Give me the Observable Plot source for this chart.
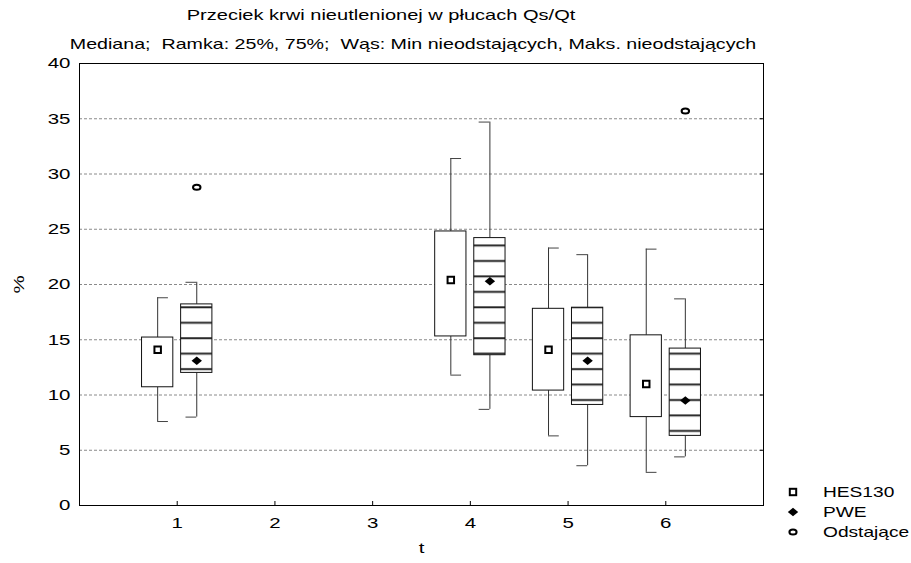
<!DOCTYPE html>
<html>
<head>
<meta charset="utf-8">
<script src="https://cdn.jsdelivr.net/npm/d3@7"></script>
<script src="https://cdn.jsdelivr.net/npm/@observablehq/plot@0.6"></script>
<style>
  body { margin: 0; background: #fff; font-family: "Liberation Sans", Arial, sans-serif; }
  #wrap { position: relative; width: 911px; height: 563px; overflow: hidden; background: #fff; }
  #wrap > svg { position: absolute; left: 0; top: 0; }
  .ctext { position: absolute; white-space: pre; line-height: 1; color: #000;
           transform: translate(-50%, -50%) scaleX(1.354); }
  .leg { position: absolute; white-space: pre; font-size: 14.5px; line-height: 1; color: #000;
         transform-origin: 0 50%; transform: translateY(-50%) scaleX(1.32); }
  .legsym { position: absolute; }
</style>
</head>
<body>
<div id="wrap"></div>
<script>
// ---- data ----
const tValues  = [1, 4, 5, 6];
const hesMin   = [7.6, 11.8, 6.3, 3.0];
const hesQ1    = [10.7, 15.3, 10.4, 8.0];
const hesMed   = [14.1, 20.4, 14.1, 11.0];
const hesQ3    = [15.2, 24.8, 17.8, 15.4];
const hesMax   = [18.8, 31.4, 23.3, 23.2];
const pweMin   = [8.0, 8.7, 3.6, 4.4];
const pweQ1    = [12.0, 13.6, 9.1, 6.3];
const pweMed   = [13.1, 20.3, 13.1, 9.5];
const pweQ3    = [18.2, 24.2, 17.9, 14.2];
const pweMax   = [20.2, 34.7, 22.7, 18.7];
const outlierT      = [1, 6];
const outlierSeries = ["PWE", "PWE"];
const outlierValues = [28.8, 35.7];
const xTicks = [1, 2, 3, 4, 5, 6];
const yTicks = [0, 5, 10, 15, 20, 25, 30, 35, 40];
const seriesNames = ["HES130", "PWE", "Odstające"];
const titleText = "Przeciek krwi nieutlenionej w płucach Qs/Qt";
const subtitleText = "Mediana;  Ramka: 25%, 75%;  Wąs: Min nieodstających, Maks. nieodstających";
const xLabel = "t";
const yLabel = "%";

// ---- layout / style ----
const W = 911, H = 563;
const offset = {HES130: -0.2, PWE: 0.2};
const capDir = {HES130: 1, PWE: -1};
const halfW = 0.16, capLen = 0.11;
const STRETCH = 1.32;

function build(series, mins, q1s, meds, q3s, maxs) {
  return tValues.map((t, i) => ({series, t, xc: t + offset[series],
    min: mins[i], q1: q1s[i], med: meds[i], q3: q3s[i], max: maxs[i]}));
}
const hes = build("HES130", hesMin, hesQ1, hesMed, hesQ3, hesMax);
const pwe = build("PWE", pweMin, pweQ1, pweMed, pweQ3, pweMax);
const rows = hes.concat(pwe);
const outliers = outlierT.map((t, i) => ({t, xc: t + offset[outlierSeries[i]], v: outlierValues[i]}));

// custom symbols
const squareSym = {draw(ctx, size) { const h = Math.sqrt(size / Math.PI) * 0.9; ctx.rect(-h, -h, 2*h, 2*h); }};
const diamondSym = {draw(ctx, size) { const r = Math.sqrt(size / Math.PI); const a = r * 1.3, b = r * 1.05;
  ctx.moveTo(0, -b); ctx.lineTo(a, 0); ctx.lineTo(0, b); ctx.lineTo(-a, 0); ctx.closePath(); }};
const ellipseSym = {draw(ctx, size) { const r = Math.sqrt(size / Math.PI); const rx = r * 1.25, ry = r * 0.85, k = 0.5523;
  ctx.moveTo(rx, 0);
  ctx.bezierCurveTo(rx, k*ry, k*rx, ry, 0, ry);
  ctx.bezierCurveTo(-k*rx, ry, -rx, k*ry, -rx, 0);
  ctx.bezierCurveTo(-rx, -k*ry, -k*rx, -ry, 0, -ry);
  ctx.bezierCurveTo(k*rx, -ry, rx, -k*ry, rx, 0);
  ctx.closePath(); }};

const fmt = d => String(d);

const chart = Plot.plot({
  width: W, height: H,
  marginTop: 63, marginLeft: 79, marginRight: 148, marginBottom: 58,
  style: {fontFamily: '"Liberation Sans", Arial, sans-serif', fontSize: "15.5px", color: "#000", background: "#fff"},
  x: {domain: [0, 7]},
  y: {domain: [0, 40]},
  marks: [
    Plot.ruleY(yTicks.filter(v => v > 0 && v < 40), {stroke: "#8a8a8a", strokeDasharray: "3,2"}),
    Plot.ruleX(rows, {x: "xc", y1: "q3", y2: "max", stroke: "#333"}),
    Plot.ruleX(rows, {x: "xc", y1: "min", y2: "q1", stroke: "#333"}),
    Plot.ruleY(rows, {y: "max", x1: "xc", x2: d => d.xc + capDir[d.series] * capLen, stroke: "#444"}),
    Plot.ruleY(rows, {y: "min", x1: "xc", x2: d => d.xc + capDir[d.series] * capLen, stroke: "#444"}),
    Plot.rect(hes, {x1: d => d.xc - halfW, x2: d => d.xc + halfW, y1: "q1", y2: "q3", fill: "white", stroke: "#111"}),
    Plot.rect(pwe, {x1: d => d.xc - halfW, x2: d => d.xc + halfW, y1: "q1", y2: "q3", fill: "url(#hatchPWE)", stroke: "#111"}),
    Plot.dot(hes, {x: "xc", y: "med", symbol: squareSym, r: 3.6, fill: "white", stroke: "#000", strokeWidth: 2}),
    Plot.dot(pwe, {x: "xc", y: "med", symbol: diamondSym, r: 4, fill: "#000", stroke: "none"}),
    Plot.dot(outliers, {x: "xc", y: "v", symbol: ellipseSym, r: 3, fill: "white", stroke: "#000", strokeWidth: 2}),
    Plot.frame({stroke: "#000"}),
    Plot.axisY({anchor: "right", ticks: yTicks, tickSize: -4, tickFormat: () => "", label: null}),
    Plot.axisX({anchor: "bottom", ticks: xTicks, tickSize: -4, tickFormat: () => "", label: null}),
    Plot.axisY({anchor: "left", ticks: yTicks, tickSize: 0, tickPadding: 9, fontSize: 15.5, tickFormat: fmt,
                label: yLabel, labelAnchor: "center", labelOffset: 67, labelArrow: "none"}),
    Plot.axisX({anchor: "bottom", ticks: xTicks, tickSize: 0, tickPadding: 11, fontSize: 15.5, tickFormat: fmt,
                label: xLabel, labelAnchor: "center", labelOffset: 47, labelArrow: "none"})
  ]
});

// hatch pattern for PWE boxes (horizontal lines in page space)
const hatchStep = 15.45, hatchPhase = 13.75;
const defs = d3.select(chart).insert("defs", ":first-child");
const pat = defs.append("pattern").attr("id", "hatchPWE").attr("patternUnits", "userSpaceOnUse")
  .attr("x", 0).attr("y", 0).attr("width", 40).attr("height", hatchStep);
pat.append("rect").attr("width", 40).attr("height", hatchStep).attr("fill", "#fff");
pat.append("line").attr("x1", 0).attr("x2", 40).attr("y1", hatchPhase).attr("y2", hatchPhase)
  .attr("stroke", "#222").attr("stroke-width", 2);

// stretch SVG text horizontally like the reference (about each text's anchor point)
chart.querySelectorAll("text").forEach(t => {
  const tr = t.getAttribute("transform") || "";
  t.setAttribute("transform", tr + ` scale(${STRETCH},1)`);
});

const wrap = document.getElementById("wrap");
wrap.appendChild(chart);

// titles
function addCentered(text, cx, cy, size) {
  const d = document.createElement("div");
  d.className = "ctext"; d.textContent = text;
  d.style.left = cx + "px"; d.style.top = cy + "px"; d.style.fontSize = size + "px";
  wrap.appendChild(d);
}
addCentered(titleText, 381, 15, 14.8);
addCentered(subtitleText, 413, 44, 14.5);

// legend
const legendSyms = [
  `<svg width="14" height="14" viewBox="-7 -7 14 14"><rect x="-3.2" y="-3.2" width="6.4" height="6.4" fill="#fff" stroke="#000" stroke-width="2"/></svg>`,
  `<svg width="14" height="14" viewBox="-7 -7 14 14"><path d="M0,-4.2L5.2,0L0,4.2L-5.2,0Z" fill="#000"/></svg>`,
  `<svg width="14" height="14" viewBox="-7 -7 14 14"><ellipse cx="0" cy="0" rx="3.6" ry="2.5" fill="#fff" stroke="#000" stroke-width="2"/></svg>`
];
const legendY = [492, 512, 532];
seriesNames.forEach((name, i) => {
  const s = document.createElement("div");
  s.className = "legsym"; s.innerHTML = legendSyms[i];
  s.style.left = (793 - 7) + "px"; s.style.top = (legendY[i] - 7) + "px";
  wrap.appendChild(s);
  const l = document.createElement("div");
  l.className = "leg"; l.textContent = name;
  l.style.left = "823px"; l.style.top = legendY[i] + "px";
  wrap.appendChild(l);
});
</script>
</body>
</html>
